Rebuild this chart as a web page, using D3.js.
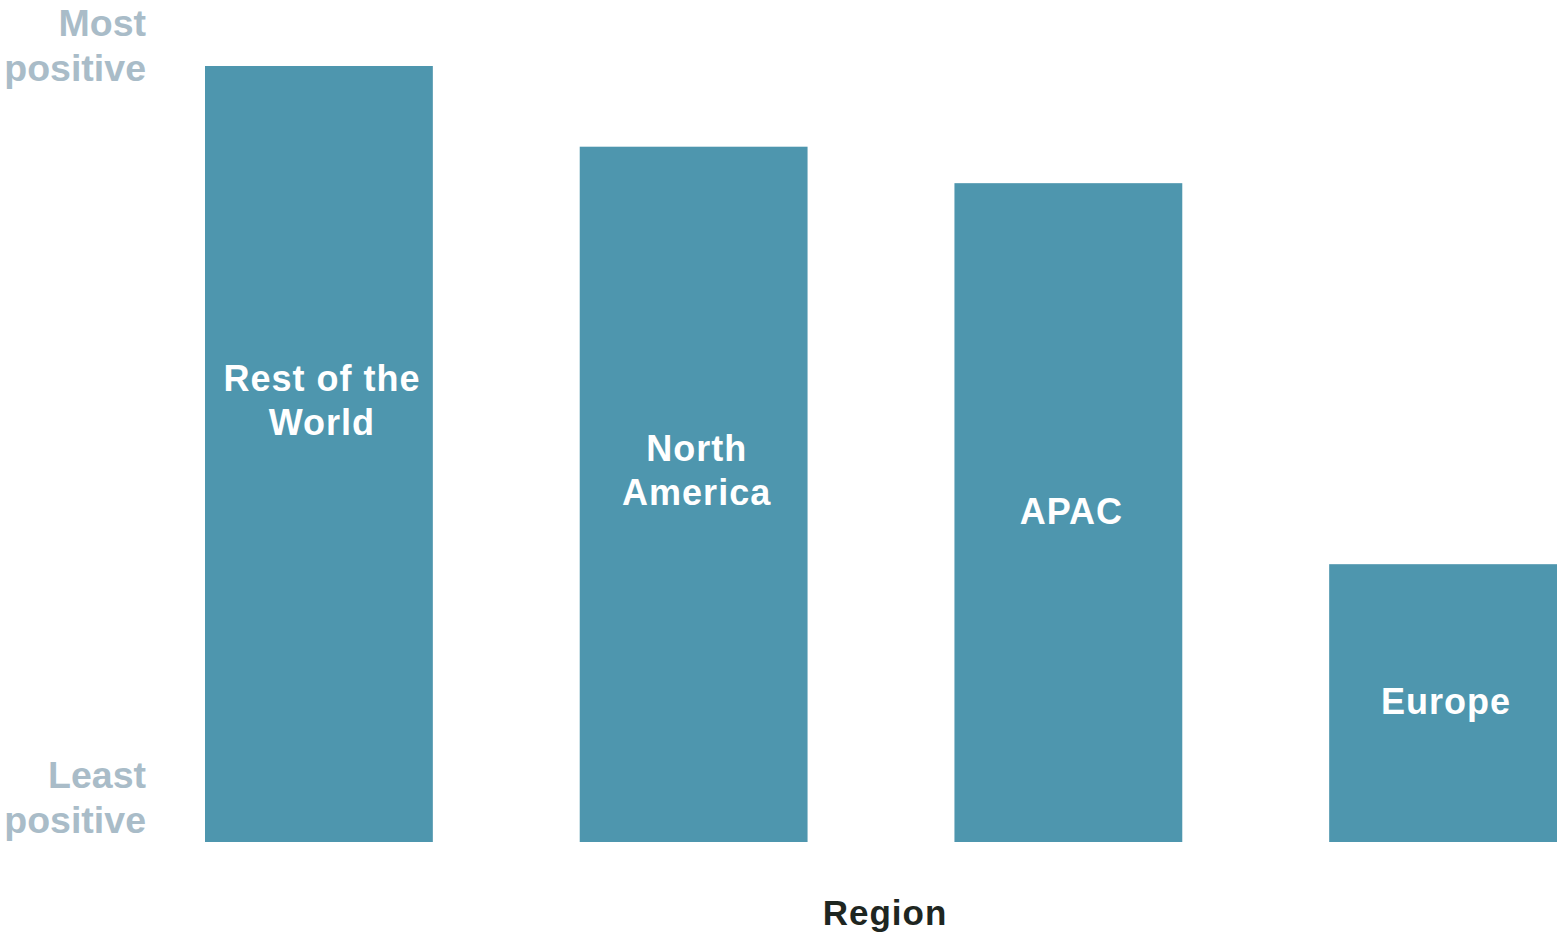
<!DOCTYPE html>
<html>
<head>
<meta charset="utf-8">
<script src="https://cdn.jsdelivr.net/npm/d3@7"></script>
<style>
  html, body { margin: 0; padding: 0; background: #ffffff; }
  svg { display: block; }
  text { font-family: "Liberation Sans", Arial, Helvetica, sans-serif; font-weight: bold; }
</style>
</head>
<body>
<svg id="chart" width="1557" height="934"></svg>
<script>
// Regions, ordered from most to least positive sentiment
const regions = ["Rest of the World", "North America", "APAC", "Europe"];
// Relative sentiment score (0 = least positive, 100 = most positive)
const scores = [100, 89.6, 84.9, 35.8];
// Wrapped label lines shown inside each bar
const barLabelLines = [["Rest of the", "World"], ["North", "America"], ["APAC"], ["Europe"]];
// End labels of the sentiment axis
const axisTopLabel = ["Most", "positive"];
const axisBottomLabel = ["Least", "positive"];
const xTitle = "Region";

const W = 1557, H = 934;
const svg = d3.select("#chart");

const x = d3.scaleBand()
  .domain(regions)
  .range([205, 1557])
  .paddingInner(0.392)
  .paddingOuter(0);

const y = d3.scaleLinear()
  .domain([0, 100])
  .range([842, 66]);

const barColor = "#4e96ae";
const axisColor = "#a9bcc8";

const data = regions.map((r, i) => ({ region: r, score: scores[i], lines: barLabelLines[i] }));

// Bars
svg.append("g")
  .selectAll("rect")
  .data(data)
  .join("rect")
  .attr("x", d => x(d.region))
  .attr("y", d => y(d.score))
  .attr("width", x.bandwidth())
  .attr("height", d => y(0) - y(d.score))
  .attr("fill", barColor);

// Labels inside bars: last line sits just below the bar's vertical middle
const lineH = 44;
const labelNudge = { "Rest of the World": -30 };
const labels = svg.append("g")
  .selectAll("text")
  .data(data)
  .join("text")
  .attr("text-anchor", "middle")
  .attr("fill", "#ffffff")
  .attr("font-size", 36)
  .attr("letter-spacing", "1px")
  .attr("transform", d => {
    const cx = x(d.region) + x.bandwidth() / 2 + 3;
    const mid = (y(d.score) + y(0)) / 2;
    const lastBase = mid + 11 + (labelNudge[d.region] || 0);
    const firstBase = lastBase - (d.lines.length - 1) * lineH;
    return `translate(${cx},${firstBase})`;
  });

labels.selectAll("tspan")
  .data(d => d.lines)
  .join("tspan")
  .attr("x", 0)
  .attr("dy", (l, i) => i === 0 ? 0 : lineH)
  .text(l => l);

// Sentiment axis end labels
function endLabel(lines, firstBaseline) {
  const t = svg.append("text")
    .attr("text-anchor", "end")
    .attr("fill", axisColor)
    .attr("font-size", 37.5)
    .attr("transform", `translate(146,${firstBaseline})`);
  t.selectAll("tspan")
    .data(lines)
    .join("tspan")
    .attr("x", 0)
    .attr("dy", (l, i) => i === 0 ? 0 : 45)
    .text(l => l);
}
endLabel(axisTopLabel, y(100) - 30);
endLabel(axisBottomLabel, y(0) - 54);

// X-axis title
svg.append("text")
  .attr("x", 885)
  .attr("y", 925)
  .attr("text-anchor", "middle")
  .attr("fill", "#1e2621")
  .attr("font-size", 35)
  .attr("letter-spacing", "1px")
  .text(xTitle);
</script>
</body>
</html>
